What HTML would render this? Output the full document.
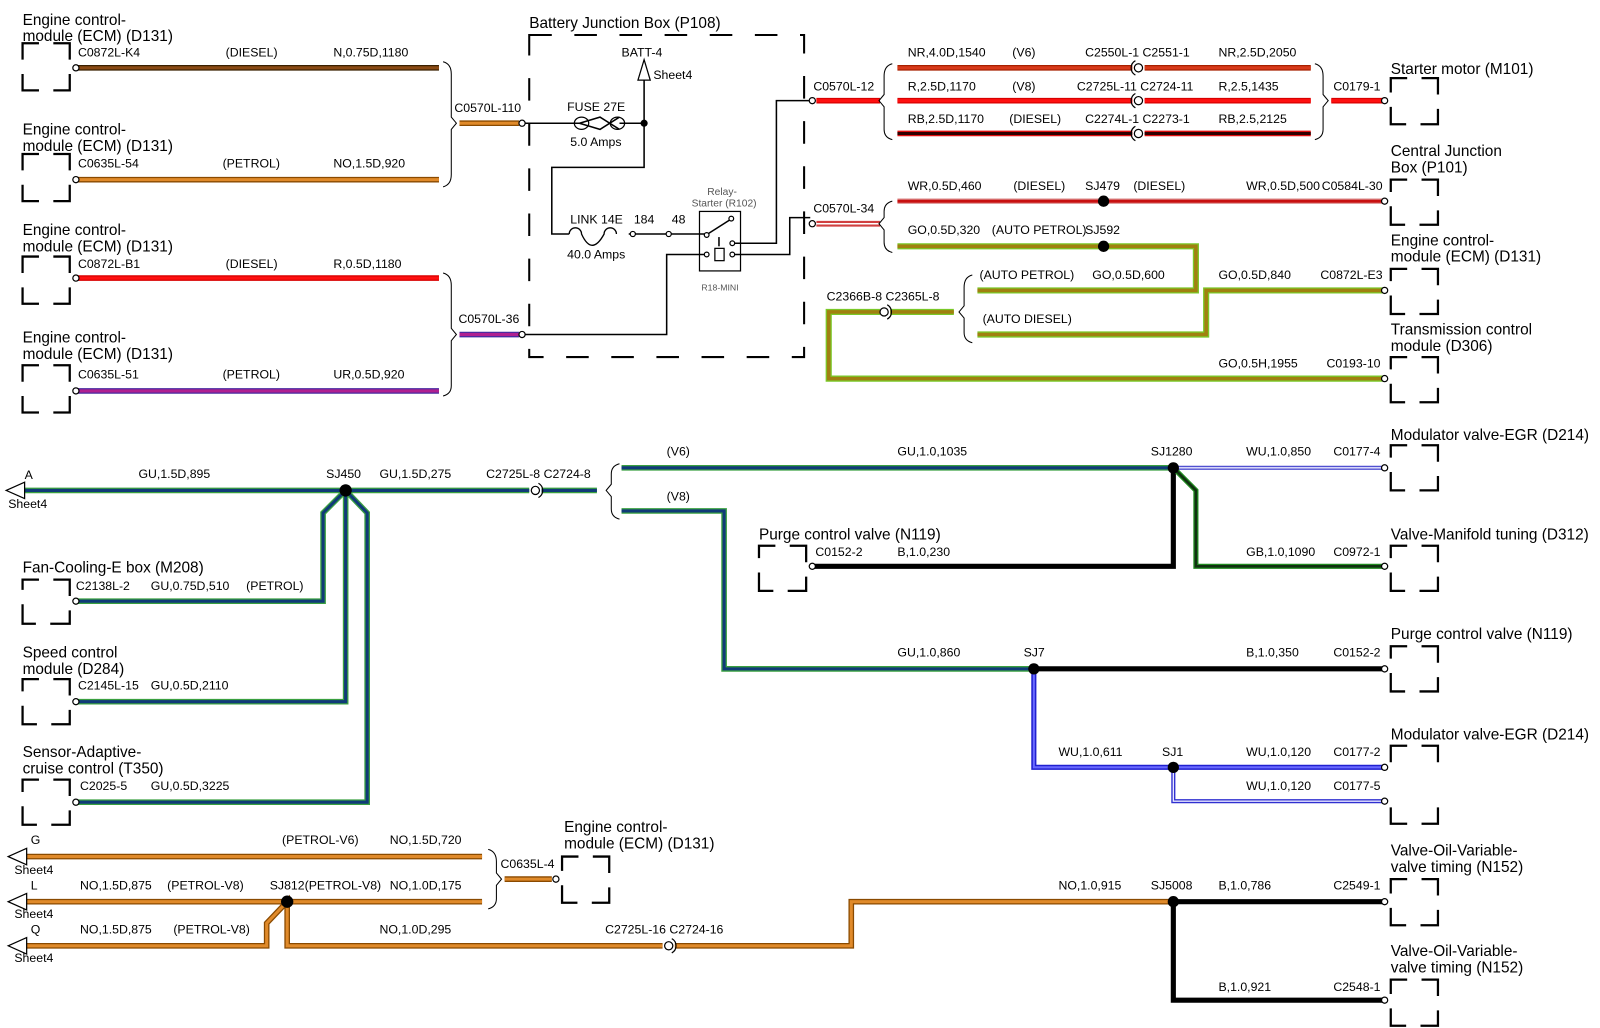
<!DOCTYPE html>
<html><head><meta charset="utf-8"><style>
html,body{margin:0;padding:0;background:#fff}
svg{display:block}
text{font-family:"Liberation Sans",Arial,sans-serif;fill:#000}
.t{font-size:15px}
.s{font-size:12px}
.e{text-anchor:end}
.g{font-size:10px;fill:#555}
.bx{fill:none;stroke:#000;stroke-width:2.2;stroke-dasharray:16 14 32 14 32 14 32 14 16}
.ln{fill:none;stroke:#000;stroke-width:1.5}
.br{fill:none;stroke:#000;stroke-width:1}
path.w{fill:none;stroke-linejoin:miter}
.o{stroke-width:5.5}.i{stroke-width:3}
.pin{fill:#fff;stroke:#000;stroke-width:1.2}
</style></head><body>
<svg width="1600" height="1028" viewBox="0 0 1560 1002" xmlns="http://www.w3.org/2000/svg">
<rect width="1560" height="1002" fill="#fff"/>

<!-- ===== TOP LEFT ===== -->
<text class="t" x="22" y="24">Engine control-</text><text class="t" x="22" y="40">module (ECM) (D131)</text>
<rect class="bx" x="22" y="42" width="46" height="46"/>
<text class="s" x="76" y="55">C0872L-K4</text><text class="s" x="220" y="55">(DIESEL)</text><text class="s" x="325" y="55">N,0.75D,1180</text>
<path class="w o" stroke="#3a2000" d="M76 66H428"/><path class="w i" stroke="#8a4a14" d="M76 66H428"/>

<text class="t" x="22" y="131">Engine control-</text><text class="t" x="22" y="147">module (ECM) (D131)</text>
<rect class="bx" x="22" y="150" width="46" height="46"/>
<text class="s" x="76" y="163">C0635L-54</text><text class="s" x="217" y="163">(PETROL)</text><text class="s" x="325" y="163">NO,1.5D,920</text>
<path class="w o" stroke="#8a4a00" d="M76 175H428"/><path class="w i" stroke="#e08a2a" d="M76 175H428"/>

<text class="t" x="22" y="229">Engine control-</text><text class="t" x="22" y="245">module (ECM) (D131)</text>
<rect class="bx" x="22" y="250" width="46" height="46"/>
<text class="s" x="76" y="261">C0872L-B1</text><text class="s" x="220" y="261">(DIESEL)</text><text class="s" x="325" y="261">R,0.5D,1180</text>
<path class="w o" stroke="#d80000" d="M76 271H428"/><path class="w i" stroke="#ff1010" d="M76 271H428"/>

<text class="t" x="22" y="334">Engine control-</text><text class="t" x="22" y="350">module (ECM) (D131)</text>
<rect class="bx" x="22" y="356" width="46" height="46"/>
<text class="s" x="76" y="369">C0635L-51</text><text class="s" x="217" y="369">(PETROL)</text><text class="s" x="325" y="369">UR,0.5D,920</text>
<path class="w o" stroke="#4a2aa0" d="M76 381H428"/><path class="w i" stroke="#b02090" d="M76 381H428"/>

<g class="pin"><circle cx="74" cy="66" r="3"/><circle cx="74" cy="175" r="3"/><circle cx="74" cy="271" r="3"/><circle cx="74" cy="381" r="3"/></g>

<path class="br" d="M432 60Q440 62 440 72V114L445 120L440 126V170Q440 180 432 182"/>
<path class="br" d="M432 266Q440 268 440 278V320L445 326L440 332V376Q440 384 432 386"/>
<text class="s" x="443" y="109">C0570L-110</text>
<path class="w o" stroke="#8a4a00" d="M448 120H506"/><path class="w i" stroke="#e08a2a" d="M448 120H506"/>
<text class="s" x="447" y="315">C0570L-36</text>
<path class="w o" stroke="#4a2aa0" d="M448 326H506"/><path class="w i" stroke="#b02090" d="M448 326H506"/>
<circle class="pin" cx="509" cy="120" r="3"/><circle class="pin" cx="509" cy="326" r="3"/>

<!-- Battery junction box -->
<text class="t" x="516" y="27">Battery Junction Box (P108)</text>
<rect x="516" y="34" width="268" height="314" fill="none" stroke="#000" stroke-width="2" stroke-dasharray="22 22"/>
<text class="s" x="606" y="55">BATT-4</text>
<path d="M628 58L622 78H634Z" fill="#fff" stroke="#000" stroke-width="1.2"/>
<text class="s" x="637" y="77">Sheet4</text>
<path class="ln" d="M628 78V163H538V228H555"/>
<path class="ln" d="M512 120H565M604 120H628"/>
<circle cx="628" cy="120" r="3.5"/>
<path class="ln" d="M565 120L585 114L604 126M565 120L585 126L604 114" />
<ellipse cx="567" cy="120" rx="7" ry="6" fill="none" stroke="#000" stroke-width="1.2"/>
<ellipse cx="602" cy="120" rx="7" ry="6" fill="none" stroke="#000" stroke-width="1.2"/>
<text class="s" x="553" y="108">FUSE 27E</text><text class="s" x="556" y="142">5.0 Amps</text>
<text class="s" x="556" y="218">LINK 14E</text><text class="s" x="618" y="218">184</text><text class="s" x="655" y="218">48</text>
<path d="M555 228a6 6 0 1 1 12 0q10 22 22 0a6 6 0 1 1 12 0" fill="none" stroke="#000" stroke-width="1.3"/>
<path class="ln" d="M613 228H687"/>
<circle class="pin" cx="617" cy="228" r="2.5"/><circle class="pin" cx="652" cy="228" r="2.5"/>
<text class="s" x="553" y="252">40.0 Amps</text>
<text class="g" x="704" y="190" text-anchor="middle">Relay-</text>
<text class="g" x="706" y="201" text-anchor="middle">Starter (R102)</text>
<rect x="682" y="206" width="40" height="58" fill="none" stroke="#000" stroke-width="1.2"/>
<path class="ln" d="M690 228L712 214"/><circle class="pin" cx="689" cy="229" r="2.3"/><circle class="pin" cx="713" cy="213" r="2.3"/>
<rect x="697" y="242" width="9" height="12" fill="none" stroke="#000" stroke-width="1.2"/>
<path class="ln" d="M701 231V240"/>
<circle class="pin" cx="714" cy="237" r="2.3"/><circle class="pin" cx="689" cy="248" r="2.3"/><circle class="pin" cx="714" cy="248" r="2.3"/>
<text class="g" x="702" y="283" text-anchor="middle" style="font-size:8.5px">R18-MINI</text>
<path class="ln" d="M716 237H757V98H790"/>
<path class="ln" d="M716 248H770V212H790"/>
<path class="ln" d="M687 248H650V326H512"/>

<!-- ===== TOP RIGHT ===== -->
<text class="s" x="793" y="88">C0570L-12</text>
<circle class="pin" cx="792" cy="98" r="3"/>
<path class="w o" stroke="#d80000" d="M796 98H858"/><path class="w i" stroke="#ff1010" d="M796 98H858"/>
<path class="br" d="M870 62Q862 64 862 74V92L857 98L862 104V126Q862 134 870 136"/>
<text class="s" x="885" y="55">NR,4.0D,1540</text><text class="s" x="987" y="55">(V6)</text><text class="s" x="1058" y="55">C2550L-1 C2551-1</text><text class="s" x="1188" y="55">NR,2.5D,2050</text>
<text class="s" x="885" y="88">R,2.5D,1170</text><text class="s" x="987" y="88">(V8)</text><text class="s" x="1050" y="88">C2725L-11 C2724-11</text><text class="s" x="1188" y="88">R,2.5,1435</text>
<text class="s" x="885" y="120">RB,2.5D,1170</text><text class="s" x="984" y="120">(DIESEL)</text><text class="s" x="1058" y="120">C2274L-1 C2273-1</text><text class="s" x="1188" y="120">RB,2.5,2125</text>
<path class="w o" stroke="#a82000" d="M875 66H1104M1116 66H1278"/><path class="w i" stroke="#d83a1a" d="M875 66H1104M1116 66H1278"/>
<path class="w o" stroke="#d80000" d="M875 98H1104M1116 98H1278"/><path class="w i" stroke="#ff1010" d="M875 98H1104M1116 98H1278"/>
<path class="w o" stroke="#e01010" d="M875 130H1104M1116 130H1278"/><path class="w i" stroke="#300000" d="M875 130H1104M1116 130H1278"/>
<g fill="none" stroke="#000" stroke-width="1.2"><circle cx="1110" cy="66" r="4"/><circle cx="1110" cy="98" r="4"/><circle cx="1110" cy="130" r="4"/>
<path d="M1107 59a8 8 0 0 0 0 14M1107 91a8 8 0 0 0 0 14M1107 123a8 8 0 0 0 0 14"/></g>
<path class="br" d="M1282 62Q1290 64 1290 74V92L1295 98L1290 104V126Q1290 134 1282 136"/>
<text class="s e" x="1346" y="88">C0179-1</text>
<path class="w o" stroke="#d80000" d="M1298 98H1348"/><path class="w i" stroke="#ff1010" d="M1298 98H1348"/>
<text class="t" x="1356" y="72">Starter motor (M101)</text>
<rect class="bx" x="1356" y="76" width="46" height="45"/>
<circle class="pin" cx="1350" cy="98" r="3"/>

<text class="s" x="793" y="207">C0570L-34</text>
<circle class="pin" cx="792" cy="218" r="3"/>
<path class="w o" stroke="#d04040" d="M796 218H858"/><path class="w" stroke="#fff" stroke-width="1.5" d="M796 218H858"/>
<path class="br" d="M870 196Q862 198 862 206V212L857 218L862 224V236Q862 244 870 246"/>
<text class="s" x="885" y="185">WR,0.5D,460</text><text class="s" x="988" y="185">(DIESEL)</text><text class="s" x="1058" y="185">SJ479</text><text class="s" x="1105" y="185">(DIESEL)</text><text class="s" x="1215" y="185">WR,0.5D,500</text><text class="s e" x="1348" y="185">C0584L-30</text>
<path class="w o" stroke="#e0a0a0" d="M875 196H1348"/><path class="w" stroke="#c81010" stroke-width="3" d="M875 196H1348"/>
<circle cx="1076" cy="196" r="5.5"/>
<text class="t" x="1356" y="152">Central Junction</text><text class="t" x="1356" y="168">Box (P101)</text>
<rect class="bx" x="1356" y="175" width="46" height="44"/>
<circle class="pin" cx="1350" cy="196" r="3"/>

<text class="s" x="885" y="228">GO,0.5D,320</text><text class="s" x="967" y="228">(AUTO PETROL)</text><text class="s" x="1058" y="228">SJ592</text>
<g class="w" fill="none">
<path stroke="#7ac828" stroke-width="6" d="M875 240H1166V283H953"/><path stroke="#a08010" stroke-width="3.5" d="M875 240H1166V283H953"/>
<path stroke="#7ac828" stroke-width="6" d="M953 326H1176V283H1348"/><path stroke="#a08010" stroke-width="3.5" d="M953 326H1176V283H1348"/>
<path stroke="#7ac828" stroke-width="6" d="M858 304H808V369H1348"/><path stroke="#a08010" stroke-width="3.5" d="M858 304H808V369H1348"/>
<path stroke="#7ac828" stroke-width="6" d="M868 304H930"/><path stroke="#a08010" stroke-width="3.5" d="M868 304H930"/>
</g>
<circle cx="1076" cy="240" r="5.5"/>
<text class="s" x="955" y="272">(AUTO PETROL)</text><text class="s" x="1065" y="272">GO,0.5D,600</text>
<text class="s" x="1188" y="272">GO,0.5D,840</text><text class="s e" x="1348" y="272">C0872L-E3</text>
<text class="s" x="958" y="315">(AUTO DIESEL)</text>
<text class="s" x="806" y="293">C2366B-8 C2365L-8</text>
<path class="br" d="M948 268Q940 270 940 280V298L935 304L940 310V324Q940 332 948 334"/>
<g fill="none" stroke="#000" stroke-width="1.2"><circle cx="862" cy="304" r="4"/><path d="M865 297a8 8 0 0 1 0 14"/></g>
<text class="s" x="1188" y="358">GO,0.5H,1955</text><text class="s e" x="1346" y="358">C0193-10</text>
<text class="t" x="1356" y="239">Engine control-</text><text class="t" x="1356" y="255">module (ECM) (D131)</text>
<rect class="bx" x="1356" y="262" width="46" height="44"/>
<circle class="pin" cx="1350" cy="283" r="3"/>
<text class="t" x="1356" y="326">Transmission control</text><text class="t" x="1356" y="342">module (D306)</text>
<rect class="bx" x="1356" y="348" width="46" height="44"/>
<circle class="pin" cx="1350" cy="369" r="3"/>

<!-- ===== MIDDLE LEFT (GU) ===== -->
<g fill="none">
<path stroke="#3aa040" stroke-width="5.5" d="M24 478H516M528 478H582"/><path stroke="#103a78" stroke-width="3" d="M24 478H516M528 478H582"/>
<path stroke="#3aa040" stroke-width="5.5" d="M337 478L315 500V586H76"/><path stroke="#103a78" stroke-width="3" d="M337 478L315 500V586H76"/>
<path stroke="#3aa040" stroke-width="5.5" d="M337 478V684H76"/><path stroke="#103a78" stroke-width="3" d="M337 478V684H76"/>
<path stroke="#3aa040" stroke-width="5.5" d="M337 478L358 500V782H76"/><path stroke="#103a78" stroke-width="3" d="M337 478L358 500V782H76"/>
</g>
<circle cx="337" cy="478" r="6"/>
<path d="M6 478L24 470V486Z" fill="#fff" stroke="#000" stroke-width="1.2"/>
<text class="s" x="24" y="467">A</text><text class="s" x="8" y="495">Sheet4</text>
<text class="s" x="135" y="466">GU,1.5D,895</text><text class="s" x="318" y="466">SJ450</text><text class="s" x="370" y="466">GU,1.5D,275</text><text class="s" x="474" y="466">C2725L-8 C2724-8</text>
<g fill="none" stroke="#000" stroke-width="1.2"><circle cx="522" cy="478" r="4"/><path d="M525 471a8 8 0 0 1 0 14"/></g>
<path class="br" d="M604 452Q596 454 596 462V472L591 478L596 484V496Q596 504 604 506"/>
<text class="t" x="22" y="558">Fan-Cooling-E box (M208)</text>
<rect class="bx" x="22" y="565" width="46" height="43"/>
<text class="s" x="74" y="575">C2138L-2</text><text class="s" x="147" y="575">GU,0.75D,510</text><text class="s" x="240" y="575">(PETROL)</text>
<text class="t" x="22" y="641">Speed control</text><text class="t" x="22" y="657">module (D284)</text>
<rect class="bx" x="22" y="662" width="46" height="44"/>
<text class="s" x="76" y="672">C2145L-15</text><text class="s" x="147" y="672">GU,0.5D,2110</text>
<text class="t" x="22" y="738">Sensor-Adaptive-</text><text class="t" x="22" y="754">cruise control (T350)</text>
<rect class="bx" x="22" y="760" width="46" height="44"/>
<text class="s" x="78" y="770">C2025-5</text><text class="s" x="147" y="770">GU,0.5D,3225</text>
<circle class="pin" cx="74" cy="586" r="3"/><circle class="pin" cx="74" cy="684" r="3"/><circle class="pin" cx="74" cy="782" r="3"/>

<!-- ===== MIDDLE RIGHT ===== -->
<text class="s" x="650" y="444">(V6)</text><text class="s" x="650" y="488">(V8)</text>
<text class="s" x="875" y="444">GU,1.0,1035</text><text class="s" x="1122" y="444">SJ1280</text><text class="s" x="1215" y="444">WU,1.0,850</text><text class="s e" x="1346" y="444">C0177-4</text>
<g fill="none">
<path stroke="#3aa040" stroke-width="5.5" d="M606 456H1144"/><path stroke="#103a78" stroke-width="3" d="M606 456H1144"/>
<path stroke="#3aa040" stroke-width="5.5" d="M606 498H706V652H1008"/><path stroke="#103a78" stroke-width="3" d="M606 498H706V652H1008"/>
<path stroke="#5050d0" stroke-width="4" d="M1144 456H1348"/><path stroke="#e8e8ff" stroke-width="1.3" d="M1144 456H1348"/>
<path stroke="#000" stroke-width="5" d="M1144 456V552H792"/>
<path stroke="#208a20" stroke-width="5" d="M1144 456L1166 478V552H1348"/><path stroke="#103010" stroke-width="2.5" d="M1144 456L1166 478V552H1348"/>
<path stroke="#000" stroke-width="5" d="M1008 652H1348"/>
<path stroke="#2020d0" stroke-width="5" d="M1008 652V748H1348"/><path stroke="#6a6aff" stroke-width="2" d="M1008 652V748H1348"/>
<path stroke="#3030d0" stroke-width="4" d="M1144 748V781H1348"/><path stroke="#e8e8ff" stroke-width="1.3" d="M1144 748V781H1348"/>
</g>
<circle cx="1144" cy="456" r="5.5"/><circle cx="1008" cy="652" r="5.5"/><circle cx="1144" cy="748" r="5.5"/>
<text class="t" x="1356" y="429">Modulator valve-EGR (D214)</text>
<rect class="bx" x="1356" y="434" width="46" height="44"/>
<text class="t" x="740" y="526">Purge control valve (N119)</text>
<rect class="bx" x="740" y="532" width="46" height="44"/>
<text class="s" x="795" y="542">C0152-2</text><text class="s" x="875" y="542">B,1.0,230</text>
<text class="s" x="1215" y="542">GB,1.0,1090</text><text class="s e" x="1346" y="542">C0972-1</text>
<text class="t" x="1356" y="526">Valve-Manifold tuning (D312)</text>
<rect class="bx" x="1356" y="532" width="46" height="44"/>
<text class="s" x="875" y="640">GU,1.0,860</text><text class="s" x="998" y="640">SJ7</text><text class="s" x="1215" y="640">B,1.0,350</text><text class="s e" x="1346" y="640">C0152-2</text>
<text class="t" x="1356" y="623">Purge control valve (N119)</text>
<rect class="bx" x="1356" y="630" width="46" height="44"/>
<text class="s" x="1032" y="737">WU,1.0,611</text><text class="s" x="1133" y="737">SJ1</text><text class="s" x="1215" y="737">WU,1.0,120</text><text class="s e" x="1346" y="737">C0177-2</text>
<text class="s" x="1215" y="770">WU,1.0,120</text><text class="s e" x="1346" y="770">C0177-5</text>
<text class="t" x="1356" y="721">Modulator valve-EGR (D214)</text>
<rect class="bx" x="1356" y="727" width="46" height="76" style="stroke-dasharray:16 14 32 44 32 14 32 44 16"/>
<g class="pin"><circle cx="1350" cy="456" r="3"/><circle cx="792" cy="552" r="3"/><circle cx="1350" cy="552" r="3"/><circle cx="1350" cy="652" r="3"/><circle cx="1350" cy="748" r="3"/><circle cx="1350" cy="781" r="3"/></g>

<!-- ===== BOTTOM ORANGE ===== -->
<g fill="none">
<path stroke="#8a4a00" stroke-width="5.5" d="M24 835H470M24 879H470M24 922H260V900L280 879V922H646M658 922H830V879H1144"/>
<path stroke="#e08a2a" stroke-width="3" d="M24 835H470M24 879H470M24 922H260V900L280 879V922H646M658 922H830V879H1144"/>
<path stroke="#8a4a00" stroke-width="5.5" d="M492 857H538"/><path stroke="#e08a2a" stroke-width="3" d="M492 857H538"/>
<path stroke="#000" stroke-width="5" d="M1144 879H1348M1144 879V975H1348"/>
</g>
<circle cx="280" cy="879" r="6"/><circle cx="1144" cy="879" r="5.5"/>
<path d="M8 835L26 827V843ZM8 879L26 871V887ZM8 922L26 914V930Z" fill="#fff" stroke="#000" stroke-width="1.2"/>
<text class="s" x="30" y="823">G</text><text class="s" x="14" y="852">Sheet4</text>
<text class="s" x="30" y="867">L</text><text class="s" x="14" y="895">Sheet4</text>
<text class="s" x="30" y="910">Q</text><text class="s" x="14" y="938">Sheet4</text>
<text class="s" x="275" y="823">(PETROL-V6)</text><text class="s" x="380" y="823">NO,1.5D,720</text>
<text class="s" x="78" y="867">NO,1.5D,875</text><text class="s" x="163" y="867">(PETROL-V8)</text><text class="s" x="263" y="867">SJ812(PETROL-V8)</text><text class="s" x="380" y="867">NO,1.0D,175</text>
<text class="s" x="78" y="910">NO,1.5D,875</text><text class="s" x="169" y="910">(PETROL-V8)</text><text class="s" x="370" y="910">NO,1.0D,295</text><text class="s" x="590" y="910">C2725L-16 C2724-16</text>
<g fill="none" stroke="#000" stroke-width="1.2"><circle cx="652" cy="922" r="4"/><path d="M655 915a8 8 0 0 1 0 14"/></g>
<path class="br" d="M476 828Q484 830 484 840V851L489 857L484 863V876Q484 884 476 886"/>
<text class="s" x="488" y="846">C0635L-4</text>
<text class="t" x="550" y="811">Engine control-</text><text class="t" x="550" y="827">module (ECM) (D131)</text>
<rect class="bx" x="548" y="835" width="46" height="45"/>
<circle class="pin" cx="542" cy="857" r="3"/>
<text class="s" x="1032" y="867">NO,1.0,915</text><text class="s" x="1122" y="867">SJ5008</text><text class="s" x="1188" y="867">B,1.0,786</text><text class="s e" x="1346" y="867">C2549-1</text>
<text class="s" x="1188" y="966">B,1.0,921</text><text class="s e" x="1346" y="966">C2548-1</text>
<text class="t" x="1356" y="834">Valve-Oil-Variable-</text><text class="t" x="1356" y="850">valve timing (N152)</text>
<rect class="bx" x="1356" y="857" width="46" height="45"/>
<text class="t" x="1356" y="932">Valve-Oil-Variable-</text><text class="t" x="1356" y="948">valve timing (N152)</text>
<rect class="bx" x="1356" y="955" width="46" height="45"/>
<circle class="pin" cx="1350" cy="879" r="3"/><circle class="pin" cx="1350" cy="975" r="3"/>
</svg>
</body></html>
